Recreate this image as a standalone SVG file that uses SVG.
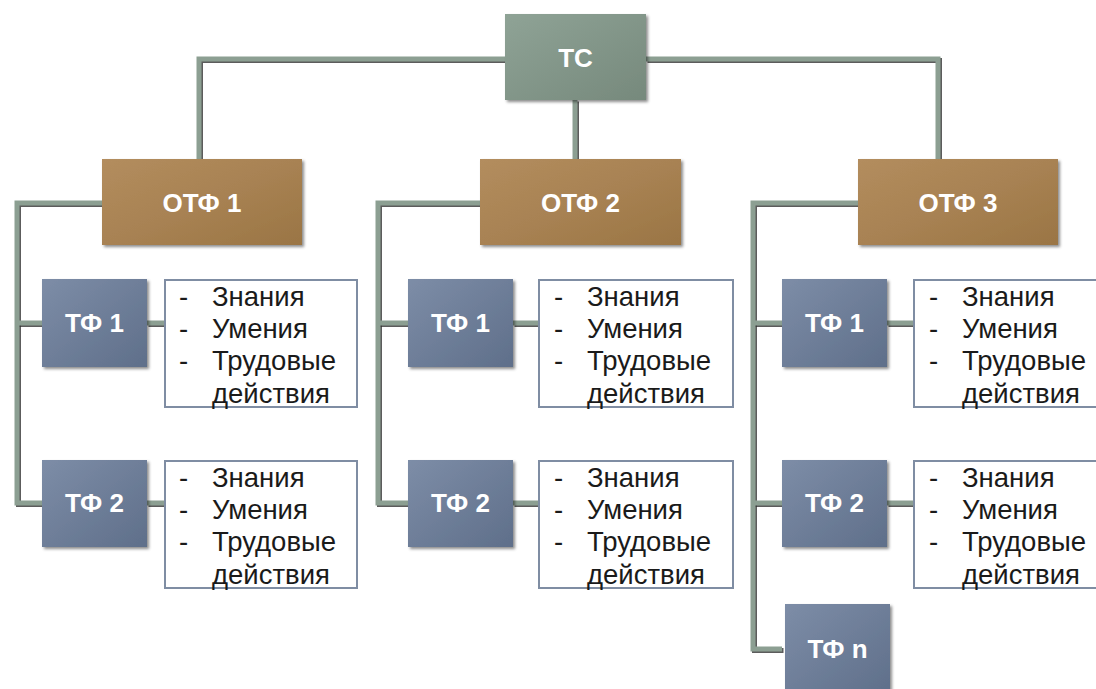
<svg xmlns="http://www.w3.org/2000/svg" width="1096" height="689" viewBox="0 0 1096 689">
<defs>
<linearGradient id="gTC" x1="0" y1="0" x2="1" y2="1"><stop offset="0" stop-color="#8FA396"/><stop offset="1" stop-color="#76897C"/></linearGradient>
<linearGradient id="gOTF" x1="0" y1="0" x2="1" y2="1"><stop offset="0" stop-color="#B38D5E"/><stop offset="0.5" stop-color="#A88253"/><stop offset="1" stop-color="#9A7544"/></linearGradient>
<linearGradient id="gTF" x1="0" y1="0" x2="1" y2="1"><stop offset="0" stop-color="#7D8DA7"/><stop offset="1" stop-color="#5F6F8A"/></linearGradient>
<filter id="sh" x="-10%" y="-10%" width="125%" height="125%"><feDropShadow dx="2" dy="2" stdDeviation="1.5" flood-color="#000" flood-opacity="0.45"/></filter>
</defs>
<style>
.lbl{font-family:"Liberation Sans",Arial,sans-serif;font-weight:bold;font-size:26px;fill:#fff;text-anchor:middle}
.lst{font-family:"Liberation Sans",Arial,sans-serif;font-size:27.5px;fill:#1a1a1a}
.tb{fill:#fff;stroke:#7F8DA3;stroke-width:2}
.ln{fill:none;stroke:#8C9F92;stroke-width:5;stroke-linejoin:miter}
.lns{fill:none;stroke:#333;stroke-width:5;stroke-linejoin:miter;opacity:0.8}
</style>
<rect width="1096" height="689" fill="#fff"/>
<g id="connectors">
<g transform="translate(1.5,1.5)">
<path class="lns" d="M505 59 H199 V159"/>
<path class="lns" d="M646 59 H938 V159"/>
<path class="lns" d="M575 100 V159"/>
<path class="lns" d="M102 203 H17 V503 H42"/>
<path class="lns" d="M17 323 H42"/>
<path class="lns" d="M147 323 H165"/>
<path class="lns" d="M147 503 H165"/>
<path class="lns" d="M480 203 H378 V503 H408"/>
<path class="lns" d="M378 323 H408"/>
<path class="lns" d="M513 323 H539"/>
<path class="lns" d="M513 503 H539"/>
<path class="lns" d="M858 203 H753 V649 H782"/>
<path class="lns" d="M753 323 H782"/>
<path class="lns" d="M753 503 H782"/>
<path class="lns" d="M887 323 H914"/>
<path class="lns" d="M887 503 H914"/>
</g>
<path class="ln" d="M505 59 H199 V159"/>
<path class="ln" d="M646 59 H938 V159"/>
<path class="ln" d="M575 100 V159"/>
<path class="ln" d="M102 203 H17 V503 H42"/>
<path class="ln" d="M17 323 H42"/>
<path class="ln" d="M147 323 H165"/>
<path class="ln" d="M147 503 H165"/>
<path class="ln" d="M480 203 H378 V503 H408"/>
<path class="ln" d="M378 323 H408"/>
<path class="ln" d="M513 323 H539"/>
<path class="ln" d="M513 503 H539"/>
<path class="ln" d="M858 203 H753 V649 H782"/>
<path class="ln" d="M753 323 H782"/>
<path class="ln" d="M753 503 H782"/>
<path class="ln" d="M887 323 H914"/>
<path class="ln" d="M887 503 H914"/>
</g>
<g id="tc"><rect x="505" y="14" width="141" height="86" fill="url(#gTC)" filter="url(#sh)"/><text class="lbl" x="575.5" y="67">ТС</text></g>
<g id="otf1"><rect x="102" y="159" width="200" height="86" fill="url(#gOTF)" filter="url(#sh)"/><text class="lbl" x="202" y="212">ОТФ 1</text></g>
<g id="otf2"><rect x="480" y="159" width="201" height="86" fill="url(#gOTF)" filter="url(#sh)"/><text class="lbl" x="580.5" y="212">ОТФ 2</text></g>
<g id="otf3"><rect x="858" y="159" width="200" height="86" fill="url(#gOTF)" filter="url(#sh)"/><text class="lbl" x="958" y="212">ОТФ 3</text></g>
<g id="c1tf1"><rect x="42" y="279" width="105" height="88" fill="url(#gTF)" filter="url(#sh)"/><text class="lbl" x="94.5" y="332">ТФ 1</text></g>
<g id="c1tf2"><rect x="42" y="460" width="105" height="87" fill="url(#gTF)" filter="url(#sh)"/><text class="lbl" x="94.5" y="512">ТФ 2</text></g>
<g id="c2tf1"><rect x="408" y="279" width="105" height="88" fill="url(#gTF)" filter="url(#sh)"/><text class="lbl" x="460.5" y="332">ТФ 1</text></g>
<g id="c2tf2"><rect x="408" y="460" width="105" height="87" fill="url(#gTF)" filter="url(#sh)"/><text class="lbl" x="460.5" y="512">ТФ 2</text></g>
<g id="c3tf1"><rect x="782" y="279" width="105" height="88" fill="url(#gTF)" filter="url(#sh)"/><text class="lbl" x="834.5" y="332">ТФ 1</text></g>
<g id="c3tf2"><rect x="782" y="460" width="105" height="87" fill="url(#gTF)" filter="url(#sh)"/><text class="lbl" x="834.5" y="512">ТФ 2</text></g>
<g id="c3tfn"><rect x="785" y="604" width="105" height="90" fill="url(#gTF)" filter="url(#sh)"/><text class="lbl" x="837.5" y="658">ТФ n</text></g>
<g id="c1box1"><rect class="tb" x="165" y="280" width="192" height="127"/>
<text class="lst" x="179" y="306">-</text><text class="lst" x="212" y="306">Знания</text>
<text class="lst" x="179" y="338">-</text><text class="lst" x="212" y="338">Умения</text>
<text class="lst" x="179" y="370">-</text><text class="lst" x="212" y="370">Трудовые</text>
<text class="lst" x="212" y="403">действия</text></g>
<g id="c1box2"><rect class="tb" x="165" y="461" width="192" height="127"/>
<text class="lst" x="179" y="487">-</text><text class="lst" x="212" y="487">Знания</text>
<text class="lst" x="179" y="519">-</text><text class="lst" x="212" y="519">Умения</text>
<text class="lst" x="179" y="551">-</text><text class="lst" x="212" y="551">Трудовые</text>
<text class="lst" x="212" y="584">действия</text></g>
<g id="c2box1"><rect class="tb" x="539" y="280" width="194" height="127"/>
<text class="lst" x="554" y="306">-</text><text class="lst" x="587" y="306">Знания</text>
<text class="lst" x="554" y="338">-</text><text class="lst" x="587" y="338">Умения</text>
<text class="lst" x="554" y="370">-</text><text class="lst" x="587" y="370">Трудовые</text>
<text class="lst" x="587" y="403">действия</text></g>
<g id="c2box2"><rect class="tb" x="539" y="461" width="194" height="127"/>
<text class="lst" x="554" y="487">-</text><text class="lst" x="587" y="487">Знания</text>
<text class="lst" x="554" y="519">-</text><text class="lst" x="587" y="519">Умения</text>
<text class="lst" x="554" y="551">-</text><text class="lst" x="587" y="551">Трудовые</text>
<text class="lst" x="587" y="584">действия</text></g>
<g id="c3box1"><rect class="tb" x="914" y="280" width="190" height="127"/>
<text class="lst" x="929" y="306">-</text><text class="lst" x="962" y="306">Знания</text>
<text class="lst" x="929" y="338">-</text><text class="lst" x="962" y="338">Умения</text>
<text class="lst" x="929" y="370">-</text><text class="lst" x="962" y="370">Трудовые</text>
<text class="lst" x="962" y="403">действия</text></g>
<g id="c3box2"><rect class="tb" x="914" y="461" width="190" height="127"/>
<text class="lst" x="929" y="487">-</text><text class="lst" x="962" y="487">Знания</text>
<text class="lst" x="929" y="519">-</text><text class="lst" x="962" y="519">Умения</text>
<text class="lst" x="929" y="551">-</text><text class="lst" x="962" y="551">Трудовые</text>
<text class="lst" x="962" y="584">действия</text></g>
</svg>
